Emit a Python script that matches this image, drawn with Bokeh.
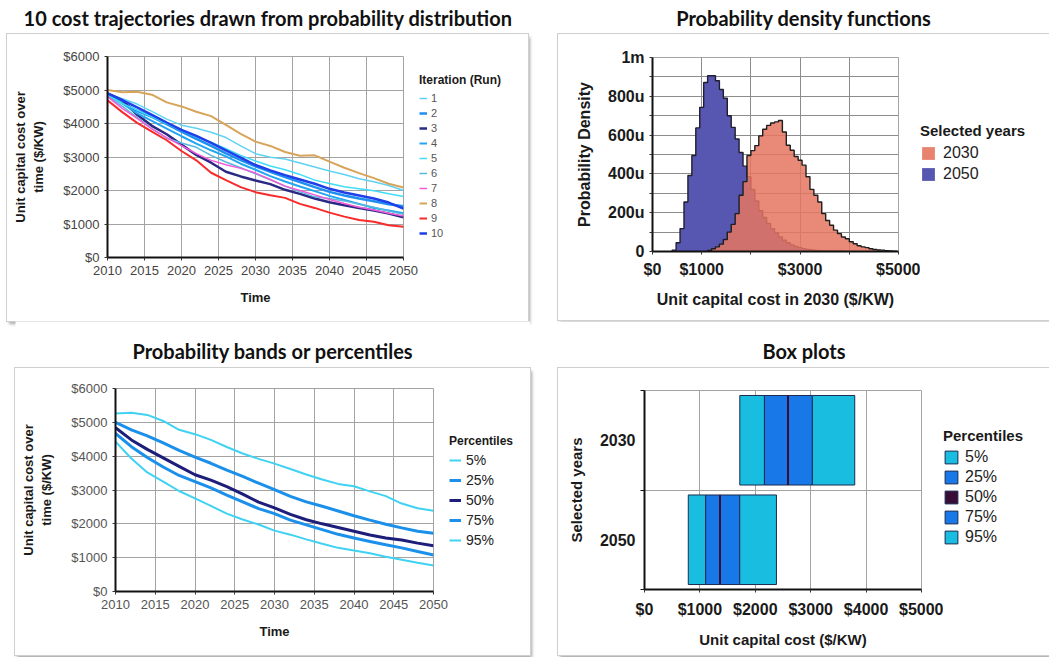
from bokeh.plotting import figure
from bokeh.models import FixedTicker, PrintfTickFormatter, Legend, LegendItem, Spacer
from bokeh.layouts import column, row
from bokeh.embed import file_html
from bokeh.resources import INLINE
from bokeh.core.properties import value

# ---------------- data ----------------
years = [2010, 2012, 2014, 2016, 2018, 2020, 2022, 2024, 2026, 2028, 2030,
         2032, 2034, 2036, 2038, 2040, 2042, 2044, 2046, 2048, 2050]

# ten sampled cost trajectories ($/KW)
run_1 = [4900, 4740, 4580, 4360, 4130, 3950, 3860, 3740, 3580, 3330, 3100,
         2990, 2940, 2820, 2700, 2580, 2480, 2350, 2260, 2150, 2000]
run_2 = [4850, 4620, 4380, 4200, 3980, 3760, 3540, 3330, 3110, 2910, 2720,
         2560, 2400, 2250, 2100, 1960, 1850, 1760, 1680, 1590, 1530]
run_3 = [4900, 4700, 4260, 3930, 3680, 3370, 3060, 2830, 2560, 2420, 2300,
         2190, 2020, 1900, 1760, 1650, 1560, 1480, 1400, 1310, 1200]
run_4 = [4880, 4600, 4300, 4080, 3850, 3620, 3400, 3200, 3020, 2800, 2620,
         2430, 2270, 2120, 1980, 1840, 1720, 1600, 1480, 1400, 1320]
run_5 = [4850, 4600, 4400, 4200, 4000, 3800, 3600, 3440, 3250, 3050, 2880,
         2730, 2620, 2480, 2310, 2210, 2110, 2050, 1990, 1900, 1820]
run_6 = [4820, 4520, 4180, 3850, 3560, 3420, 3290, 3050, 2850, 2680, 2500,
         2320, 2130, 1960, 1810, 1760, 1690, 1590, 1500, 1390, 1290]
run_7 = [4800, 4450, 4150, 3840, 3580, 3340, 3100, 2900, 2770, 2660, 2520,
         2330, 2130, 2000, 1870, 1730, 1610, 1500, 1420, 1320, 1240]
run_8 = [5000, 4930, 4950, 4860, 4630, 4510, 4350, 4220, 3960, 3690, 3460,
         3330, 3150, 3040, 3050, 2860, 2680, 2520, 2370, 2200, 2090]
run_9 = [4690, 4340, 4020, 3760, 3500, 3180, 2900, 2530, 2310, 2100, 1950,
         1860, 1780, 1600, 1480, 1340, 1220, 1120, 1070, 960, 920]
run_10 = [4900, 4700, 4480, 4260, 4030, 3810, 3630, 3420, 3200, 2980, 2760,
          2600, 2460, 2330, 2200, 2050, 1940, 1850, 1760, 1640, 1460]
runs = [run_1, run_2, run_3, run_4, run_5, run_6, run_7, run_8, run_9, run_10]
run_labels = ["1", "2", "3", "4", "5", "6", "7", "8", "9", "10"]

# percentile bands ($/KW)
pct_labels = ["5%", "25%", "50%", "75%", "95%"]
pct_05 = [4430, 3930, 3520, 3250, 2970, 2750, 2530, 2300, 2130, 1980, 1800,
          1680, 1540, 1410, 1290, 1210, 1130, 1030, 940, 850, 770]
pct_25 = [4670, 4280, 3960, 3680, 3430, 3250, 3060, 2850, 2650, 2450, 2300,
          2110, 1970, 1830, 1690, 1580, 1480, 1380, 1290, 1180, 1080]
pct_50 = [4840, 4480, 4200, 3950, 3700, 3450, 3290, 3100, 2880, 2640, 2470,
          2280, 2120, 2000, 1890, 1780, 1670, 1580, 1520, 1430, 1350]
pct_75 = [5000, 4780, 4600, 4390, 4170, 3970, 3790, 3590, 3400, 3200, 3010,
          2810, 2650, 2520, 2380, 2240, 2110, 1990, 1880, 1780, 1720]
pct_95 = [5260, 5280, 5220, 5040, 4780, 4650, 4480, 4270, 4080, 3920, 3780,
          3620, 3460, 3310, 3180, 3110, 2960, 2820, 2600, 2460, 2390]
pct_series = [pct_05, pct_25, pct_50, pct_75, pct_95]

# histogram densities (micro-units per $), bins of equal width
pdf_years = ["2030", "2050"]
pdf_bin_width = 80
pdf_2030_start = 1120
pdf_2030 = [5, 14, 24, 38, 62, 100, 140, 195, 290, 360,
            495, 520, 546, 596, 630, 650, 662, 668, 675, 616,
            548, 522, 490, 470, 445, 385, 320, 290, 255, 195,
            160, 135, 110, 92, 75, 66, 50, 40, 30, 24,
            20, 14, 10, 8, 7, 4, 3, 2]
pdf_2050_start = 400
pdf_2050 = [7, 45, 118, 255, 392, 495, 637, 743, 871, 906,
            906, 880, 835, 790, 700, 640, 580, 510, 440, 385,
            320, 260, 210, 175, 145, 118, 95, 75, 58, 45,
            34, 26, 20, 15, 11, 8, 6, 4, 3, 2,
            2, 1, 1, 1]
density_ticks = [0, 200, 400, 600, 800, 1000]
density_minor = [100, 300, 500, 700, 900]
density_tick_labels = ["0", "200u", "400u", "600u", "800u", "1m"]

# box plot percentiles ($/KW)
box_years = ["2030", "2050"]
box_p05 = [1720, 790]
box_p25 = [2165, 1104]
box_p50 = [2590, 1363]
box_p75 = [3030, 1719]
box_p95 = [3795, 2382]

panel_titles = ["10 cost trajectories drawn from probability distribution",
                "Probability density functions",
                "Probability bands or percentiles",
                "Box plots"]

# ---------------- styling ----------------
FONT = "Liberation Sans"
TITLE_FONT = "Lato"
GRID = "#a3a3a3"
PANEL_CSS = {"outline": "1px solid #cfcfcf",
             "box-shadow": "2px 3px 3px rgba(0,0,0,0.35)"}

run_colors = ["#5fd3f3", "#1c8ff0", "#2a2a86", "#22a6f2", "#3fdcf7",
              "#56b8dc", "#f45ad8", "#d8a45a", "#f82a2a", "#1f3fe8"]
run_widths = [1.5, 2.5, 2.5, 2, 1.5, 1.5, 1.5, 2, 2, 2.5]
pct_colors = ["#3fd2f2", "#1a90ea", "#1d1d7a", "#1a90ea", "#3fd2f2"]
pct_widths = [2, 3, 3, 3, 2]
pdf_colors = ["#e57560", "#5757b2"]
BOX_CYAN, BOX_BLUE, BOX_MED, BOX_EDGE = "#19bde0", "#1878e8", "#3a0d36", "#1b2b4f"


def title_fig(text, w, h, cy):
    t = figure(width=w, height=h, x_range=(0, w), y_range=(0, h),
               x_axis_type=None, y_axis_type=None, toolbar_location=None,
               output_backend="svg", min_border=0, outline_line_color=None)
    t.text(x=[w / 2], y=[cy], text=[text], text_font=value(TITLE_FONT),
           text_font_style="bold", text_font_size="20px", text_align="center",
           text_baseline="middle", text_color="#111111")
    return t


def panel_fig(w, h, left, right, top, bottom, **kw):
    p = figure(width=w, height=h, min_border_left=left,
               min_border_right=right, min_border_top=top, min_border_bottom=bottom,
               toolbar_location=None, output_backend="svg", **kw)
    p.outline_line_color = GRID
    p.grid.grid_line_color = GRID
    p.grid.grid_line_width = 1
    for ax in p.axis:
        ax.axis_line_color = "#111111"
        ax.axis_line_width = 2
        ax.major_tick_in = 0
        ax.major_tick_out = 3
        ax.major_tick_line_color = "#333333"
        ax.minor_tick_line_color = None
        ax.axis_label_text_font = FONT
        ax.axis_label_text_font_style = "bold"
        ax.axis_label_text_color = "#1a1a1a"
        ax.major_label_text_font = FONT
    return p


def legend_fig(w, h, top, bottom):
    # narrow companion canvas that carries a panel's legend; its unit ranges
    # keep the key renderers (which reuse the panel data) out of view
    f = figure(width=w, height=h, x_range=(0, 1), y_range=(0, 1),
               x_axis_type=None, y_axis_type=None, toolbar_location=None,
               output_backend="svg", min_border_left=0, min_border_right=0,
               min_border_top=top, min_border_bottom=bottom, outline_line_color=None)
    return f


def make_legend(items, title, loc, title_size, label_size, padding):
    lg = Legend(items=items, title=title, location=loc)
    lg.title_text_font = FONT
    lg.title_text_font_style = "bold"
    lg.title_text_font_size = title_size
    lg.title_text_color = "#1a1a1a"
    lg.label_text_font = FONT
    lg.label_text_font_size = label_size
    lg.label_text_color = "#222222"
    lg.border_line_color = None
    lg.background_fill_alpha = 0
    lg.margin = 0
    lg.padding = padding
    return lg


# ---------------- panel 1: trajectories ----------------
p1 = panel_fig(412, 287, 100, 16, 22, 64, x_range=(2010, 2050), y_range=(0, 6000))
p1.xaxis.ticker = FixedTicker(ticks=[2010, 2015, 2020, 2025, 2030, 2035, 2040, 2045, 2050])
p1.yaxis.ticker = FixedTicker(ticks=[0, 1000, 2000, 3000, 4000, 5000, 6000])
p1.yaxis.formatter = PrintfTickFormatter(format="$%d")
p1.xaxis.axis_label = "Time"
p1.yaxis.axis_label = "Unit capital cost over\ntime ($/KW)"
for ax in p1.axis:
    ax.major_label_text_font_size = "13px"
    ax.major_label_text_color = "#444444"
    ax.axis_label_text_font_size = "13px"
p1.xaxis.axis_label_standoff = 12
p1.yaxis.axis_label_standoff = 14
l1 = legend_fig(109, 287, 22, 64)
items = []
for lab, vals, col, lw in zip(run_labels, runs, run_colors, run_widths):
    p1.line(years, vals, line_color=col, line_width=lw)
    key = l1.line(years, vals, line_color=col, line_width=lw)
    items.append(LegendItem(label=lab, renderers=[key]))
lg1 = make_legend(items, "Iteration (Run)", (0, 17), "12px", "11px", 2)
lg1.label_text_color = "#555555"
lg1.glyph_width = 8
lg1.glyph_height = 14
lg1.label_height = 14
lg1.spacing = 1
lg1.label_standoff = 4
lg1.title_standoff = 4
l1.add_layout(lg1)

# ---------------- panel 2: probability densities ----------------
p2 = panel_fig(362, 286, 94, 22, 23, 69, x_range=(0, 5000), y_range=(0, 1000))
p2.grid.grid_line_color = "#8c8c8c"
p2.xaxis.ticker = FixedTicker(ticks=[0, 1000, 2000, 3000, 4000, 5000])
p2.xaxis.formatter = PrintfTickFormatter(format="$%d")
p2.xaxis.major_label_overrides = {2000: "", 4000: ""}
p2.yaxis.ticker = FixedTicker(ticks=density_ticks, minor_ticks=density_minor)
p2.yaxis.major_label_overrides = dict(zip(density_ticks, density_tick_labels))
p2.yaxis.minor_tick_line_color = "#333333"
p2.yaxis.minor_tick_out = 3
p2.yaxis.minor_tick_in = 0
p2.ygrid.minor_grid_line_color = "#8c8c8c"
p2.xaxis.axis_label = "Unit capital cost in 2030 ($/KW)"
p2.yaxis.axis_label = "Probability Density"
for ax in p2.axis:
    ax.major_label_text_font_size = "16px"
    ax.major_label_text_font_style = "bold"
    ax.major_label_text_color = "#1a1a1a"
    ax.axis_label_text_font_size = "16px"
p2.xaxis.major_label_standoff = 6
p2.xaxis.axis_label_standoff = 10
p2.yaxis.axis_label_standoff = 12


def step_outline(start, width, heights):
    xs, ys = [start], [0]
    for i, hgt in enumerate(heights):
        x0 = start + i * width
        xs += [x0, x0 + width]
        ys += [hgt, hgt]
    xs.append(start + len(heights) * width)
    ys.append(0)
    return xs, ys


x50, y50 = step_outline(pdf_2050_start, pdf_bin_width, pdf_2050)
x30, y30 = step_outline(pdf_2030_start, pdf_bin_width, pdf_2030)
p2.patch(x50, y50, fill_color=pdf_colors[1], line_color=None)
p2.line(x50, y50, line_color="#1e1e2e", line_width=1.4)
p2.patch(x30, y30, fill_color=pdf_colors[0], fill_alpha=0.85, line_color=None)
p2.line(x30, y30, line_color="#1e1e1e", line_width=1.4)
l2 = legend_fig(129, 286, 23, 69)
keys = [l2.patch(x30, y30, fill_color=pdf_colors[0], fill_alpha=0.9, line_color=None),
        l2.patch(x50, y50, fill_color=pdf_colors[1], line_color=None)]
lg2 = make_legend([LegendItem(label=y, renderers=[k]) for y, k in zip(pdf_years, keys)],
                  "Selected years", (0, 68), "15px", "16px", 3)
lg2.glyph_width = 16
lg2.glyph_height = 16
lg2.label_height = 16
lg2.spacing = 3
lg2.label_standoff = 7
lg2.title_standoff = 5
l2.add_layout(lg2)

# ---------------- panel 3: percentile bands ----------------
p3 = panel_fig(434, 287, 100, 16, 20, 64, x_range=(2010, 2050), y_range=(0, 6000))
p3.xaxis.ticker = FixedTicker(ticks=[2010, 2015, 2020, 2025, 2030, 2035, 2040, 2045, 2050])
p3.yaxis.ticker = FixedTicker(ticks=[0, 1000, 2000, 3000, 4000, 5000, 6000])
p3.yaxis.formatter = PrintfTickFormatter(format="$%d")
p3.xaxis.axis_label = "Time"
p3.yaxis.axis_label = "Unit capital cost over\ntime ($/KW)"
for ax in p3.axis:
    ax.major_label_text_font_size = "13px"
    ax.major_label_text_color = "#555555"
    ax.axis_label_text_font_size = "13px"
p3.xaxis.axis_label_standoff = 12
p3.yaxis.axis_label_standoff = 14
l3 = legend_fig(81, 287, 20, 64)
items = []
for lab, vals, col, lw in zip(pct_labels, pct_series, pct_colors, pct_widths):
    p3.line(years, vals, line_color=col, line_width=lw)
    key = l3.line(years, vals, line_color=col, line_width=lw)
    items.append(LegendItem(label=lab, renderers=[key]))
lg3 = make_legend(items, "Percentiles", (0, 41), "12px", "14px", 1)
lg3.glyph_width = 12
lg3.glyph_height = 20
lg3.label_height = 20
lg3.spacing = 0
lg3.label_standoff = 5
lg3.title_standoff = 2
l3.add_layout(lg3)

# ---------------- panel 4: box plots ----------------
p4 = panel_fig(385, 287, 86, 22, 22, 66, x_range=(0, 5000), y_range=(0, len(box_years)))
ypos = [len(box_years) - i - 0.5 for i in range(len(box_years))]
p4.xaxis.ticker = FixedTicker(ticks=[0, 1000, 2000, 3000, 4000, 5000])
p4.xaxis.formatter = PrintfTickFormatter(format="$%d")
p4.yaxis.ticker = FixedTicker(ticks=ypos, minor_ticks=[0, 1, 2])
p4.yaxis.major_label_overrides = dict(zip(ypos, box_years))
p4.yaxis.major_tick_line_color = None
p4.yaxis.minor_tick_line_color = "#111111"
p4.yaxis.minor_tick_out = 4
p4.yaxis.minor_tick_in = 0
p4.ygrid.grid_line_color = None
p4.ygrid.minor_grid_line_color = GRID
p4.xaxis.axis_label = "Unit capital cost ($/KW)"
p4.yaxis.axis_label = "Selected years"
for ax in p4.axis:
    ax.major_label_text_font_size = "16px"
    ax.major_label_text_font_style = "bold"
    ax.major_label_text_color = "#1a1a1a"
    ax.axis_label_text_font_size = "15px"
p4.xaxis.major_label_standoff = 8
p4.xaxis.axis_label_standoff = 10
p4.yaxis.axis_label_standoff = 12
bh = 0.9
segments = [(box_p05, box_p25, BOX_CYAN, BOX_EDGE, 1),
            (box_p25, box_p50, BOX_BLUE, BOX_EDGE, 1),
            (box_p50, box_p50, BOX_MED, BOX_MED, 2),
            (box_p50, box_p75, BOX_BLUE, BOX_EDGE, 1),
            (box_p75, box_p95, BOX_CYAN, BOX_EDGE, 1)]
# median stroke drawn last so it sits on top of the quartile boxes
for lo, hi, fc, lc, lw in [segments[i] for i in (0, 1, 3, 4, 2)]:
    p4.hbar(y=ypos, left=lo, right=hi, height=bh, fill_color=fc, line_color=lc, line_width=lw)
l4 = legend_fig(106, 287, 22, 66)
keys = [l4.hbar(y=ypos, left=lo, right=hi, height=bh, fill_color=fc, line_color=BOX_EDGE)
        for lo, hi, fc, lc, lw in segments]
lg4 = make_legend([LegendItem(label=l, renderers=[k]) for l, k in zip(pct_labels, keys)],
                  "Percentiles", (0, 43), "15px", "16px", 4)
lg4.glyph_width = 16
lg4.glyph_height = 16
lg4.label_height = 16
lg4.spacing = 2
lg4.label_standoff = 6
lg4.title_standoff = 4
l4.add_layout(lg4)

# ---------------- titles and page layout ----------------
t1 = title_fig(panel_titles[0], 521, 34, 17)
t2 = title_fig(panel_titles[1], 491, 34, 17)
t3 = title_fig(panel_titles[2], 515, 47, 18)
t4 = title_fig(panel_titles[3], 491, 47, 18)

box1 = row(p1, l1, styles=PANEL_CSS)
box2 = row(p2, l2, styles=PANEL_CSS)
box3 = row(p3, l3, styles=PANEL_CSS)
box4 = row(p4, l4, styles=PANEL_CSS)

page = column(
    row(Spacer(width=7, height=34), column(t1), Spacer(width=30, height=34), column(t2)),
    row(Spacer(width=7, height=287), box1, Spacer(width=30, height=287), box2),
    row(Spacer(width=15, height=47), column(t3), Spacer(width=28, height=47), column(t4)),
    row(Spacer(width=15, height=287), box3, Spacer(width=28, height=287), box4),
)

open("out.html", "w").write(file_html(page, INLINE))
